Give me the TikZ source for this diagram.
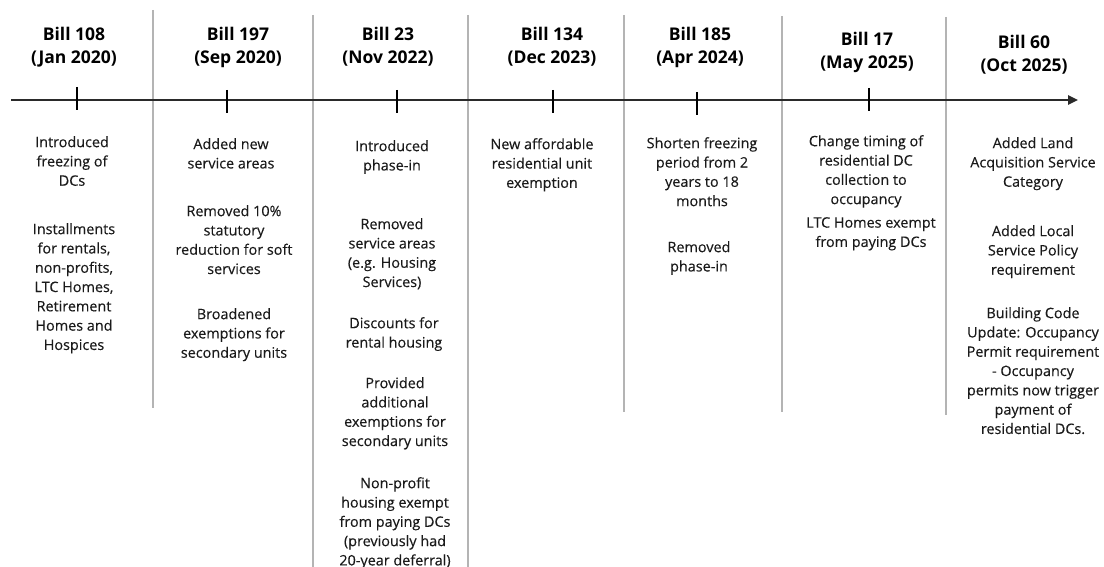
\documentclass[tikz,border=0pt]{standalone}
\usepackage{fontspec}
\setmainfont{Open Sans}
\newfontfamily\bodyfont{Open Sans}[FakeBold=0.3]
\usetikzlibrary{arrows.meta}
\definecolor{sepgray}{HTML}{B4B4B4}
\definecolor{txt}{HTML}{1A1A1A}
\definecolor{axisc}{HTML}{2A2A2A}
\begin{document}
\begin{tikzpicture}[x=1pt,y=-1pt,
  body/.style={font=\bodyfont\fontsize{14.4}{19.3}\selectfont, text=txt, align=center, anchor=north, inner sep=0pt},
  ttl/.style={font=\fontsize{17.5}{23}\selectfont\bfseries, text=black, align=center, anchor=north, inner sep=0pt},
  sepline/.style={draw=sepgray, line width=2.4pt},
  tickline/.style={draw=black, line width=2.6pt},
  axisline/.style={draw=axisc, line width=2.4pt, -{Triangle[length=10pt,width=9pt]}}]
\useasboundingbox (0,0) rectangle (1104,567);

% separators
\draw[sepline] (153,10) -- (153,408);
\draw[sepline] (313,15) -- (313,567);
\draw[sepline] (468,15) -- (468,567);
\draw[sepline] (624,15) -- (624,412);
\draw[sepline] (782,16) -- (782,412);
\draw[sepline] (946,17) -- (946,415);

% axis
\coordinate (axL) at (11,100);
\coordinate (axR) at (1078,100);
\draw[axisline] (axL) -- (axR);

% ticks
\draw[tickline] (77,87) -- (77,110);
\draw[tickline] (227,90) -- (227,113);
\draw[tickline] (397,90) -- (397,113);
\draw[tickline] (553,90) -- (553,113);
\draw[tickline] (697,92) -- (697,115);
\draw[tickline] (869,88) -- (869,111);

% titles
\node[ttl] (t1) at (74,27) {Bill 108\\(Jan 2020)};
\node[ttl] (t2) at (238,27) {Bill 197\\(Sep 2020)};
\node[ttl] (t3) at (388,27) {Bill 23\\(Nov 2022)};
\node[ttl] (t4) at (552,27) {Bill 134\\(Dec 2023)};
\node[ttl] (t5) at (700,27) {Bill 185\\(Apr 2024)};
\node[ttl] (t6) at (867,32) {Bill 17\\(May 2025)};
\node[ttl] (t7) at (1024,35) {Bill 60\\(Oct 2025)};

% column 1
\node[body] (c1a) at (72,136) {Introduced\\freezing of\\DCs};
\node[body] (c1b) at (74,223) {Installments\\for rentals,\\non-profits,\\LTC Homes,\\Retirement\\Homes and\\Hospices};
% column 2
\node[body] (c2a) at (231,138) {Added new\\service areas};
\node[body] (c2b) at (234,205) {Removed 10\%\\statutory\\reduction for soft\\services};
\node[body] (c2c) at (234,308) {Broadened\\exemptions for\\secondary units};
% column 3
\node[body] (c3a) at (392,140) {Introduced\\phase-in};
\node[body] (c3b) at (392,218) {Removed\\service areas\\(e.g. Housing\\Services)};
\node[body] (c3c) at (394,317) {Discounts for\\rental housing};
\node[body] (c3d) at (395,377) {Provided\\additional\\exemptions for\\secondary units};
\node[body] (c3e) at (395,477) {Non-profit\\housing exempt\\from paying DCs\\(previously had\\20-year deferral)};
% column 4
\node[body] (c4a) at (542,138) {New affordable\\residential unit\\exemption};
% column 5
\node[body] (c5a) at (702,137) {Shorten freezing\\period from 2\\years to 18\\months};
\node[body] (c5b) at (699,241) {Removed\\phase-in};
% column 6
\node[body] (c6a) at (866,135) {Change timing of\\residential DC\\collection to\\occupancy};
\node[body] (c6b) at (871,217) {LTC Homes exempt\\from paying DCs};
% column 7
\node[body] (c7a) at (1033,137) {Added Land\\Acquisition Service\\Category};
\node[body] (c7b) at (1033,225) {Added Local\\Service Policy\\requirement};
\node[body] (c7c) at (1033,307) {Building Code\\Update: Occupancy\\Permit requirement\\- Occupancy\\permits now trigger\\payment of\\residential DCs.};
\end{tikzpicture}
\end{document}
